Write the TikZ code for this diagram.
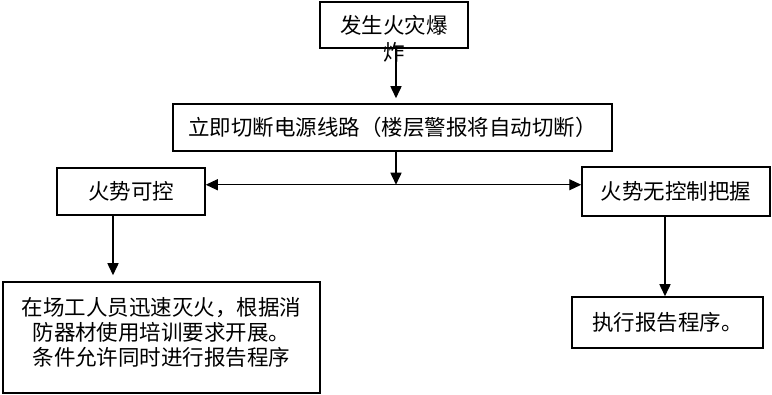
\documentclass[tikz,border=0pt]{standalone}
\usepackage{fontspec}
\newfontfamily\cjk{Noto Sans CJK SC}
\usetikzlibrary{positioning, arrows.meta, calc}

\begin{document}
\begin{tikzpicture}[x=1pt, y=-1pt,
    box/.style={draw, line width=1.5pt, inner sep=0pt, align=center, font=\cjk\fontsize{21.5}{26}\selectfont},
    txt/.style={inner sep=0pt, align=center, font=\cjk\fontsize{21.5}{25}\selectfont},
    arr/.style={-{Triangle[width=11pt,length=12pt]}, line width=1.5pt}]
    \useasboundingbox (0,0) rectangle (772,395);

    % Top box (text runs out below it)
    \node[box, minimum width=148pt, minimum height=46pt] (fire) at (394,25) {};
    \node[txt, font=\cjk\fontsize{21.5}{27}\selectfont] (firetxt) at (394,38.5) {发生火灾爆\\炸};

    % Cut power
    \node[box, minimum width=439pt, minimum height=47pt] (cut) at (392.5,127.5) {立即切断电源线路（楼层警报将自动切断）};

    % Branches
    \node[box, minimum width=148pt, minimum height=47pt] (ctrl) at (131,191.5) {火势可控};
    \node[box, minimum width=188pt, minimum height=49pt] (noctrl) at (676,191.5) {火势无控制把握};

    % Actions
    \node[box, minimum width=317pt, minimum height=111pt] (act) at (161.5,337.5) {};
    \node[txt] (acttxt) at (161.5,332) {在场工人员迅速灭火，根据消\\防器材使用培训要求开展。\\条件允许同时进行报告程序};
    \node[box, minimum width=191pt, minimum height=51pt] (report) at (667.5,322.5) {执行报告程序。};

    % Arrows
    \coordinate (split) at ($(cut.south)+(3.5,33)$);
    \draw[arr, shorten >=5pt] (fire.south -| split) -- (cut.north -| split);
    \draw[arr] (cut.south -| split) -- (split);
    \draw[arr, line width=1pt] (split) -- (split -| ctrl.east);
    \draw[arr, line width=1pt] (split) -- (split -| noctrl.west);
    \draw[arr, shorten >=6pt] ([xshift=-18pt]ctrl.south) -- ([xshift=-18pt]ctrl.south |- act.north);
    \draw[arr] ([xshift=-11pt]noctrl.south) -- ([xshift=-11pt]noctrl.south |- report.north);
\end{tikzpicture}
\end{document}
